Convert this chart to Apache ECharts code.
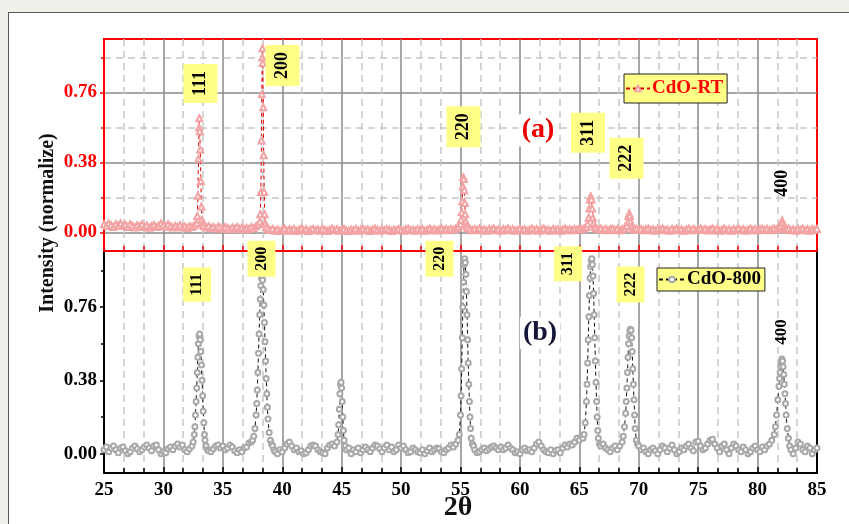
<!DOCTYPE html>
<html><head><meta charset="utf-8">
<script src="https://cdn.jsdelivr.net/npm/echarts@6/dist/echarts.min.js"></script>
<style>
html,body{margin:0;padding:0;background:#f0f0eb;overflow:hidden;}
#frame{position:absolute;left:8px;top:12px;width:900px;height:600px;background:#fff;border:1px solid #5a5a5a;}
#c{position:absolute;left:0;top:0;width:849px;height:524px;}
</style>
</head><body><div id="frame"></div><div id="c"></div>
<script>
// ---------- data ----------
const xTickValues = [25,30,35,40,45,50,55,60,65,70,75,80,85];
const yMajorTicks = [0, 0.38, 0.76];
const yMinorTicks = [0.19, 0.57, 0.95];

// CdO-RT (panel a): [2θ, normalized intensity]
const cdoRT = [
[25.0,.045],[25.2,.035],[25.4,.05],[25.6,.04],[25.8,.03],[26.0,.045],[26.2,.038],[26.4,.05],[26.6,.035],[26.8,.042],
[27.0,.03],[27.2,.045],[27.4,.036],[27.6,.028],[27.8,.04],[28.0,.033],[28.2,.045],[28.4,.03],[28.6,.038],[28.8,.026],
[29.0,.035],[29.2,.042],[29.4,.03],[29.6,.036],[29.8,.05],[30.0,.04],[30.2,.032],[30.4,.045],[30.6,.035],[30.8,.028],
[31.0,.036],[31.2,.03],[31.4,.04],[31.6,.027],[31.8,.033],[32.0,.025],[32.2,.035],[32.4,.03],[32.6,.038],[32.8,.05],
[32.85,.09],[32.9,.2],[32.95,.4],[33.0,.57],[33.03,.62],[33.07,.55],[33.1,.45],[33.15,.28],[33.2,.14],[33.25,.07],
[33.3,.045],[33.4,.035],[33.6,.028],[33.8,.035],[34.0,.025],[34.2,.03],[34.4,.022],[34.6,.032],[34.8,.027],[35.0,.02],
[35.2,.03],[35.4,.024],[35.6,.018],[35.8,.028],[36.0,.022],[36.2,.03],[36.4,.02],[36.6,.026],[36.8,.018],[37.0,.025],
[37.2,.02],[37.4,.03],[37.6,.024],[37.8,.035],[38.0,.045],[38.1,.06],[38.15,.1],[38.2,.22],[38.25,.5],[38.28,.75],
[38.31,.95],[38.33,1.0],[38.36,.92],[38.4,.68],[38.44,.42],[38.48,.22],[38.52,.1],[38.58,.05],[38.65,.03],[38.8,.02],
[39.0,.014],[39.2,.02],[39.4,.01],[39.6,.017],[39.8,.008],[40.0,.015],[40.2,.022],[40.4,.01],[40.6,.018],[40.8,.012],
[41.0,.02],[41.2,.009],[41.4,.016],[41.6,.022],[41.8,.012],[42.0,.018],[42.2,.008],[42.4,.015],[42.6,.02],[42.8,.012],
[43.0,.017],[43.2,.01],[43.4,.02],[43.6,.014],[43.8,.008],[44.0,.016],[44.2,.022],[44.4,.012],[44.6,.018],[44.8,.01],
[45.0,.015],[45.2,.02],[45.4,.012],[45.6,.008],[45.8,.016],[46.0,.012],[46.2,.02],[46.4,.01],[46.6,.015],[46.8,.02],
[47.0,.012],[47.2,.017],[47.4,.009],[47.6,.015],[47.8,.022],[48.0,.014],[48.2,.01],[48.4,.018],[48.6,.012],[48.8,.02],
[49.0,.015],[49.2,.008],[49.4,.016],[49.6,.012],[49.8,.02],[50.0,.014],[50.2,.01],[50.4,.018],[50.6,.022],[50.8,.012],
[51.0,.016],[51.2,.01],[51.4,.02],[51.6,.014],[51.8,.018],[52.0,.01],[52.2,.016],[52.4,.022],[52.6,.013],[52.8,.018],
[53.0,.011],[53.2,.017],[53.4,.022],[53.6,.014],[53.8,.019],[54.0,.012],[54.2,.02],[54.4,.016],[54.6,.022],[54.8,.03],
[55.0,.045],[55.05,.07],[55.1,.11],[55.15,.17],[55.2,.25],[55.24,.3],[55.28,.29],[55.32,.23],[55.36,.16],[55.4,.1],
[55.45,.06],[55.5,.035],[55.6,.025],[55.8,.018],[56.0,.012],[56.2,.02],[56.4,.014],[56.6,.022],[56.8,.012],[57.0,.018],
[57.2,.01],[57.4,.02],[57.6,.015],[57.8,.022],[58.0,.012],[58.2,.017],[58.4,.01],[58.6,.02],[58.8,.015],[59.0,.022],
[59.2,.012],[59.4,.018],[59.6,.01],[59.8,.016],[60.0,.021],[60.2,.012],[60.4,.018],[60.6,.01],[60.8,.016],[61.0,.022],
[61.2,.013],[61.4,.018],[61.6,.01],[61.8,.017],[62.0,.022],[62.2,.012],[62.4,.016],[62.6,.01],[62.8,.02],[63.0,.014],
[63.2,.018],[63.4,.01],[63.6,.016],[63.8,.022],[64.0,.013],[64.2,.018],[64.4,.012],[64.6,.02],[64.8,.015],[65.0,.022],
[65.2,.018],[65.4,.024],[65.6,.03],[65.7,.045],[65.78,.08],[65.84,.13],[65.9,.18],[65.96,.197],[66.02,.18],[66.08,.13],
[66.14,.08],[66.2,.05],[66.3,.032],[66.4,.025],[66.6,.018],[66.8,.022],[67.0,.014],[67.2,.02],[67.4,.012],[67.6,.018],
[67.8,.022],[68.0,.014],[68.2,.02],[68.4,.012],[68.6,.018],[68.8,.022],[69.0,.035],[69.08,.06],[69.14,.09],[69.2,.105],
[69.26,.09],[69.32,.06],[69.4,.035],[69.5,.022],[69.6,.016],[69.8,.022],[70.0,.014],[70.2,.02],[70.4,.012],[70.6,.018],
[70.8,.022],[71.0,.013],[71.2,.018],[71.4,.01],[71.6,.02],[71.8,.015],[72.0,.022],[72.2,.012],[72.4,.017],[72.6,.01],
[72.8,.02],[73.0,.014],[73.2,.022],[73.4,.012],[73.6,.018],[73.8,.01],[74.0,.016],[74.2,.022],[74.4,.013],[74.6,.02],
[74.8,.012],[75.0,.018],[75.2,.022],[75.4,.014],[75.6,.02],[75.8,.011],[76.0,.017],[76.2,.022],[76.4,.013],[76.6,.019],
[76.8,.01],[77.0,.016],[77.2,.022],[77.4,.012],[77.6,.018],[77.8,.01],[78.0,.02],[78.2,.014],[78.4,.022],[78.6,.012],
[78.8,.018],[79.0,.01],[79.2,.016],[79.4,.022],[79.6,.013],[79.8,.02],[80.0,.012],[80.2,.018],[80.4,.022],[80.6,.014],
[80.8,.02],[81.0,.012],[81.2,.018],[81.4,.022],[81.6,.016],[81.8,.025],[81.9,.035],[82.0,.055],[82.07,.065],[82.14,.05],
[82.22,.032],[82.3,.022],[82.4,.016],[82.6,.022],[82.8,.012],[83.0,.018],[83.2,.01],[83.4,.02],[83.6,.014],[83.8,.022],
[84.0,.012],[84.2,.018],[84.4,.01],[84.6,.02],[84.8,.015],[85.0,.02]
];

// CdO-800 (panel b): [2θ, normalized intensity]
const cdo800 = [
[25.0,.02],[25.2,.035],[25.4,.01],[25.6,.03],[25.8,.04],[26.0,.02],[26.2,.005],[26.4,.03],[26.6,.035],[26.8,.015],
[27.0,.0],[27.2,.01],[27.4,.03],[27.6,.04],[27.8,.025],[28.0,.01],[28.2,.02],[28.4,.035],[28.6,.045],[28.8,.03],
[29.0,.015],[29.2,.04],[29.4,.045],[29.6,.02],[29.8,.0],[30.0,.01],[30.2,.005],[30.4,.025],[30.6,.035],[30.8,.02],
[31.0,.04],[31.2,.05],[31.4,.035],[31.6,.045],[31.8,.02],[32.0,.01],[32.2,.025],[32.4,.04],
[32.5,.06],[32.6,.1],[32.65,.14],[32.7,.2],[32.75,.27],[32.8,.34],[32.85,.42],[32.9,.5],[32.95,.57],[33.0,.61],
[33.05,.62],[33.1,.59],[33.15,.53],[33.2,.46],[33.25,.38],[33.3,.3],[33.35,.22],[33.4,.16],[33.45,.1],[33.5,.07],
[33.6,.04],[33.7,.02],[33.8,.015],
[34.0,.01],[34.2,.025],[34.4,.04],[34.6,.045],[34.8,.03],[35.0,.04],[35.2,.02],[35.4,.03],[35.6,.045],[35.8,.035],
[36.0,.015],[36.2,.005],[36.4,.02],[36.6,.01],[36.8,.03],[37.0,.035],[37.2,.055],[37.4,.06],
[37.5,.07],[37.6,.09],[37.7,.13],[37.8,.2],[37.85,.26],[37.9,.33],[37.95,.42],[38.0,.52],[38.05,.62],[38.1,.72],
[38.15,.8],[38.2,.87],[38.25,.91],[38.3,.92],[38.35,.9],[38.4,.85],[38.45,.77],[38.5,.68],[38.55,.58],[38.6,.48],
[38.65,.39],[38.7,.31],[38.75,.24],[38.8,.18],[38.9,.11],[39.0,.07],[39.1,.05],[39.2,.04],[39.3,.02],
[39.4,.01],[39.6,.0],[39.8,.02],[40.0,.01],[40.2,.03],[40.4,.05],[40.6,.06],[40.8,.04],[41.0,.02],[41.2,.03],
[41.4,.01],[41.6,.015],[41.8,.0],[42.0,.005],[42.2,.02],[42.4,.04],[42.6,.045],[42.8,.04],[43.0,.02],[43.2,.01],
[43.4,.005],[43.6,.0],[43.8,.03],[44.0,.045],[44.2,.05],[44.4,.04],[44.6,.06],
[44.7,.1],[44.75,.15],[44.8,.23],[44.85,.31],[44.9,.36],[44.95,.37],[45.0,.34],[45.05,.27],[45.1,.19],[45.15,.12],
[45.2,.07],[45.3,.04],
[45.4,.02],[45.6,.03],[45.8,.0],[46.0,.02],[46.2,.01],[46.4,.03],[46.6,.005],[46.8,.02],[47.0,.035],[47.2,.02],
[47.4,.01],[47.6,.03],[47.8,.045],[48.0,.04],[48.2,.025],[48.4,.01],[48.6,.03],[48.8,.045],[49.0,.02],[49.2,.035],
[49.4,.01],[49.6,.02],[49.8,.045],[50.0,.03],[50.2,.04],[50.4,.02],[50.6,.005],[50.8,.01],[51.0,.03],[51.2,.02],
[51.4,.01],[51.6,.005],[51.8,.02],[52.0,.0],[52.2,.015],[52.4,.03],[52.6,.01],[52.8,.02],[53.0,.03],[53.2,.025],
[53.4,.01],[53.6,.005],[53.8,.02],[54.0,.03],[54.2,.045],[54.4,.035],[54.6,.05],[54.8,.07],
[54.9,.1],[55.0,.2],[55.05,.3],[55.1,.44],[55.15,.6],[55.2,.76],[55.25,.89],[55.3,.98],[55.35,1.01],[55.4,.99],
[55.45,.93],[55.5,.84],[55.55,.72],[55.6,.59],[55.65,.47],[55.7,.36],[55.75,.27],[55.8,.19],[55.85,.13],[55.9,.08],
[56.0,.05],[56.1,.04],
[56.2,.02],[56.4,.005],[56.6,.01],[56.8,.02],[57.0,.03],[57.2,.015],[57.4,.025],[57.6,.035],[57.8,.04],[58.0,.03],
[58.2,.02],[58.4,.035],[58.6,.02],[58.8,.03],[59.0,.045],[59.2,.03],[59.4,.02],[59.6,.005],[59.8,.01],[60.0,.0],
[60.2,.02],[60.4,.03],[60.6,.015],[60.8,.02],[61.0,.01],[61.2,.03],[61.4,.05],[61.6,.06],[61.8,.04],[62.0,.02],
[62.2,.01],[62.4,.005],[62.6,.02],[62.8,.0],[63.0,.015],[63.2,.02],[63.4,.005],[63.6,.03],[63.8,.045],[64.0,.035],
[64.2,.05],[64.4,.045],[64.6,.06],[64.8,.08],[65.0,.07],
[65.2,.09],[65.3,.08],[65.4,.1],[65.5,.16],[65.6,.27],[65.65,.36],[65.7,.47],[65.75,.59],[65.8,.71],[65.85,.82],
[65.9,.91],[65.95,.97],[66.0,1.0],[66.05,1.01],[66.1,.98],[66.15,.92],[66.2,.83],[66.25,.72],[66.3,.6],[66.35,.48],
[66.4,.37],[66.45,.27],[66.5,.19],[66.55,.12],[66.6,.08],[66.7,.05],[66.8,.04],
[67.0,.05],[67.2,.03],[67.4,.02],[67.6,.01],[67.8,.03],[68.0,.04],[68.2,.02],[68.4,.04],[68.6,.06],
[68.7,.09],[68.8,.14],[68.9,.21],[68.95,.27],[69.0,.34],[69.05,.42],[69.1,.5],[69.15,.57],[69.2,.61],[69.25,.635],
[69.3,.645],[69.35,.64],[69.4,.6],[69.45,.53],[69.5,.44],[69.55,.36],[69.6,.28],[69.65,.2],[69.7,.13],[69.8,.07],
[69.9,.05],
[70.0,.04],[70.2,.02],[70.4,.03],[70.6,.01],[70.8,.0],[71.0,.02],[71.2,.03],[71.4,.015],[71.6,.0],[71.8,.02],
[72.0,.04],[72.2,.03],[72.4,.01],[72.6,.03],[72.8,.045],[73.0,.02],[73.2,.0],[73.4,.01],[73.6,.03],[73.8,.02],
[74.0,.04],[74.2,.05],[74.4,.03],[74.6,.015],[74.8,.06],[75.0,.065],[75.2,.04],[75.4,.02],[75.6,.03],[75.8,.05],
[76.0,.07],[76.2,.075],[76.4,.05],[76.6,.03],[76.8,.01],[77.0,.04],[77.2,.05],[77.4,.02],[77.6,.0],[77.8,.03],
[78.0,.05],[78.2,.04],[78.4,.02],[78.6,.01],[78.8,.035],[79.0,.02],[79.2,.0],[79.4,.01],[79.6,.03],[79.8,.04],
[80.0,.02],[80.2,.01],[80.4,.035],[80.6,.02],[80.8,.04],[81.0,.05],[81.2,.07],
[81.4,.1],[81.5,.14],[81.6,.2],[81.7,.28],[81.8,.35],[81.85,.39],[81.9,.42],[81.95,.45],[82.0,.47],[82.05,.49],
[82.1,.48],[82.15,.45],[82.2,.41],[82.25,.36],[82.3,.31],[82.35,.26],[82.4,.2],[82.5,.13],[82.6,.08],[82.7,.04],
[82.8,.02],
[83.0,.0],[83.2,.03],[83.4,.06],[83.6,.05],[83.8,.02],[84.0,.01],[84.2,.04],[84.4,.03],[84.6,.0],[84.8,.02],[85.0,.03]
];

// Peak annotations: [text, 2θ, placement height]
const tagsTopBoxed = [['111',33.11,0.808],['200',40.02,0.906],['220',55.25,0.574],['311',65.73,0.542],['222',68.97,0.403]];
const tagsTopPlain = [['400',82.11,0.268]];
const tagsBotBoxed = [['111',32.83,0.876],['200',38.25,1.010],['220',53.23,1.010],['311',64.05,0.984],['222',69.31,0.876]];
const tagsBotPlain = [['400',82.02,0.63]];
const panelTagA = ['(a)',61.52,0.555];
const panelTagB = ['(b)',61.69,0.626];

// ---------- chart ----------
const SERIF = "'Liberation Serif','Times New Roman',serif";
const YELLOW = '#ffff88';
const chart = echarts.init(document.getElementById('c'));

function tagItems(list, size, pad, boxed){
  return list.map(([t,x,y]) => ({
    coord:[x,y], symbolSize:0,
    label:{show:true, position:'inside', formatter:t, rotate:90,
      backgroundColor: boxed ? YELLOW : 'transparent', padding: pad,
      fontFamily:SERIF, fontWeight:'bold', fontSize:size, color:'#000'}
  }));
}
function panelItem(tag, color){
  return {coord:[tag[1],tag[2]], symbolSize:0,
    label:{show:true, position:'inside', formatter:tag[0], backgroundColor:'#fff', padding:[2,3],
      fontFamily:SERIF, fontWeight:'bold', fontSize:28, color:color}};
}

function xAxisCfg(grid, color, showLabels){
  return {gridIndex:grid, type:'value', min:25, max:85, interval:5,
    axisLine:{show:true, onZero:false, lineStyle:{color:color, width:2}},
    axisTick:{show:true, inside:true, length:6, lineStyle:{color:color, width:1.5}},
    minorTick:{show:true, splitNumber:3, length:5, lineStyle:{color:color, width:1.5}},
    axisLabel:{show:showLabels, margin:8, color:'#000', fontFamily:SERIF, fontWeight:'bold', fontSize:19,
      customValues: xTickValues},
    splitLine:{show:true, showMinLine:false, showMaxLine:false, lineStyle:{color:'#8a8a8a', width:1.5}},
    minorSplitLine:{show:true, lineStyle:{color:'#c6c6c6', width:1.5, type:[7,5]}}
  };
}
function yMainCfg(grid, color, split){
  return {gridIndex:grid, type:'value', min:-0.1, max:1.05, position:'left',
    axisLine:{show:true, onZero:false, lineStyle:{color:color, width:2}},
    axisTick:{show:true, customValues:yMajorTicks, length:4, lineStyle:{color:color, width:1.5}},
    axisLabel:{customValues:yMajorTicks, color:color, fontFamily:SERIF, fontWeight:'bold', fontSize:19, margin:7,
      formatter: v => v.toFixed(2)},
    splitLine:{show:split, lineStyle:{color:'#8a8a8a', width:1.5}}
  };
}
function yMinorCfg(grid, color, split){
  return {gridIndex:grid, type:'value', min:-0.1, max:1.05, position:'left',
    axisLine:{show:false}, axisLabel:{show:false},
    axisTick:{show:true, customValues:yMinorTicks, length:3, lineStyle:{color:color, width:1.5}},
    splitLine:{show:split, lineStyle:{color:'#c6c6c6', width:1.5, type:[7,5]}}
  };
}

const option = {
  animation:false,
  grid:[
    {left:104, top:39, width:713, height:212, show:true, borderColor:'#ff0000', borderWidth:2, backgroundColor:'transparent'},
    {left:104, top:251, width:713, height:222, show:false}
  ],
  xAxis:[ xAxisCfg(0,'#ff0000',false), xAxisCfg(1,'#000',true) ],
  yAxis:[
    yMainCfg(0,'#ff0000',true), yMinorCfg(0,'#ff0000',true),
    yMainCfg(1,'#000',false), yMinorCfg(1,'#000',false),
    {gridIndex:1, type:'value', min:-0.1, max:1.05, position:'right',
     axisLine:{show:true, onZero:false, lineStyle:{color:'#000', width:2}}, axisTick:{show:false}, axisLabel:{show:false}, splitLine:{show:false}}
  ],
  legend:[
    {data:['CdO-RT'], left:624, top:74, orient:'horizontal', backgroundColor:YELLOW, borderColor:'#222', borderWidth:1,
     padding:[5,4,5,1], itemWidth:24, itemHeight:7, itemGap:0, selectedMode:false,
     textStyle:{color:'#ff0000', fontFamily:SERIF, fontWeight:'bold', fontSize:19, padding:[0,0,0,-3]}},
    {data:['CdO-800'], left:657, top:268, orient:'horizontal', backgroundColor:YELLOW, borderColor:'#222', borderWidth:1,
     padding:[2,4,2,1], itemWidth:26, itemHeight:7, itemGap:0, selectedMode:false,
     textStyle:{color:'#000', fontFamily:SERIF, fontWeight:'bold', fontSize:19, padding:[0,0,0,-3]}}
  ],
  series:[
    {name:'CdO-RT', type:'line', xAxisIndex:0, yAxisIndex:0, data:cdoRT,
     symbol:'emptyTriangle', symbolSize:6, showAllSymbol:true,
     itemStyle:{color:'#f3a3a3', borderWidth:1},
     lineStyle:{color:'#e00000', width:1, type:[4,3]},
     markPoint:{silent:true, symbol:'circle', data:[
       ...tagItems(tagsTopBoxed,18,[8,7],true),
       ...tagItems(tagsTopPlain,18,[2,2],false),
       panelItem(panelTagA,'#ee0000')
     ]}},
    {name:'CdO-800', type:'line', xAxisIndex:1, yAxisIndex:2, data:cdo800,
     symbol:'emptyCircle', symbolSize:5, showAllSymbol:true,
     itemStyle:{color:'#a8a8a8', borderWidth:1},
     lineStyle:{color:'#111', width:1, type:[4,3]},
     markPoint:{silent:true, symbol:'circle', data:[
       ...tagItems(tagsBotBoxed,16,[6,6],true),
       ...tagItems(tagsBotPlain,17,[2,2],false),
       panelItem(panelTagB,'#15153a')
     ]}}
  ],
  graphic:[
    {type:'text', x:48, y:223, rotation:Math.PI/2,
     style:{text:'Intensity (normalize)', font:"bold 20px 'Liberation Serif'", fill:'#111', align:'center', verticalAlign:'middle', textAlign:'center', textVerticalAlign:'middle'}},
    {type:'text', x:458, y:508,
     style:{text:'2θ', font:"bold 28px 'Liberation Serif'", fill:'#111', align:'center', verticalAlign:'middle', textAlign:'center', textVerticalAlign:'middle'}}
  ]
};
chart.setOption(option);
</script>
</body></html>
